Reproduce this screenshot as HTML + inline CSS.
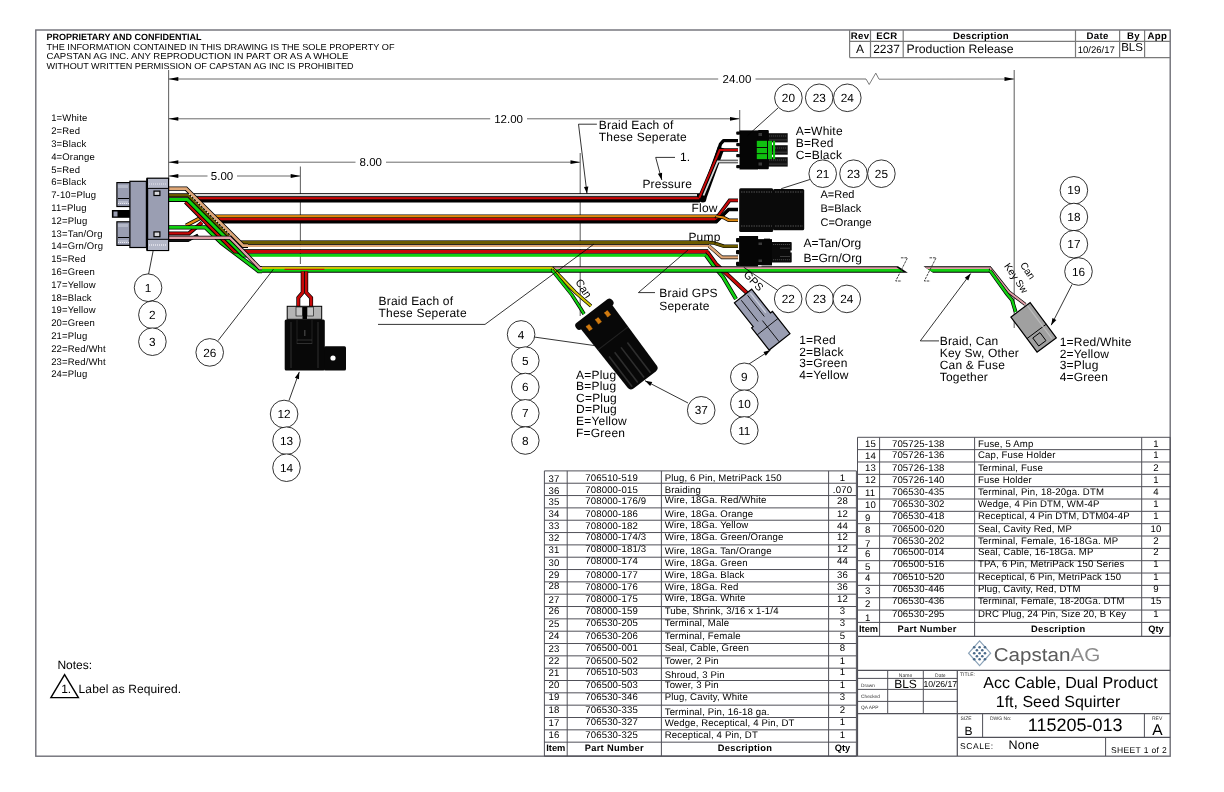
<!DOCTYPE html>
<html><head><meta charset="utf-8"><style>
html,body{margin:0;padding:0;background:#fff;}
body{width:1224px;height:792px;overflow:hidden;}
svg{display:block;will-change:transform;text-rendering:geometricPrecision;font-family:"Liberation Sans", sans-serif;}
</style></head><body>
<svg width="1224" height="792" viewBox="0 0 1224 792">
<rect x="35.8" y="30" width="1134.4" height="726.2" fill="none" stroke="#6e6e76" stroke-width="1.4" />
<text x="46.5" y="39.6" font-size="9" text-anchor="start" font-weight="bold" fill="#000" textLength="155" lengthAdjust="spacingAndGlyphs" >PROPRIETARY AND CONFIDENTIAL</text>
<text x="46.5" y="49.8" font-size="8.7" text-anchor="start" font-weight="normal" fill="#000" textLength="348" lengthAdjust="spacingAndGlyphs" >THE INFORMATION CONTAINED IN THIS DRAWING IS THE SOLE PROPERTY OF</text>
<text x="46.5" y="59.4" font-size="8.7" text-anchor="start" font-weight="normal" fill="#000" textLength="302" lengthAdjust="spacingAndGlyphs" >CAPSTAN AG INC. ANY REPRODUCTION IN PART OR AS A WHOLE</text>
<text x="46.5" y="69.2" font-size="8.7" text-anchor="start" font-weight="normal" fill="#000" textLength="307" lengthAdjust="spacingAndGlyphs" >WITHOUT WRITTEN PERMISSION OF CAPSTAN AG INC IS PROHIBITED</text>
<line x1="849.6" y1="30" x2="849.6" y2="57.6" stroke="#7a7a7a" stroke-width="1.2" />
<line x1="870.5" y1="30" x2="870.5" y2="57.6" stroke="#7a7a7a" stroke-width="1.2" />
<line x1="903.2" y1="30" x2="903.2" y2="57.6" stroke="#7a7a7a" stroke-width="1.2" />
<line x1="1075.5" y1="30" x2="1075.5" y2="57.6" stroke="#7a7a7a" stroke-width="1.2" />
<line x1="1119.6" y1="30" x2="1119.6" y2="57.6" stroke="#7a7a7a" stroke-width="1.2" />
<line x1="1144.6" y1="30" x2="1144.6" y2="57.6" stroke="#7a7a7a" stroke-width="1.2" />
<line x1="849.6" y1="41.3" x2="1170.2" y2="41.3" stroke="#7a7a7a" stroke-width="1.2" />
<line x1="849.6" y1="57.6" x2="1170.2" y2="57.6" stroke="#7a7a7a" stroke-width="1.2" />
<text x="860.05" y="39.2" font-size="9.6" text-anchor="middle" font-weight="bold" fill="#000" letter-spacing="0.3">Rev</text>
<text x="886.85" y="39.2" font-size="9.6" text-anchor="middle" font-weight="bold" fill="#000" letter-spacing="0.3">ECR</text>
<text x="981" y="39.2" font-size="9.6" text-anchor="middle" font-weight="bold" fill="#000" letter-spacing="0.3">Description</text>
<text x="1097.55" y="39.2" font-size="9.6" text-anchor="middle" font-weight="bold" fill="#000" letter-spacing="0.3">Date</text>
<text x="1133.5" y="39.2" font-size="9.6" text-anchor="middle" font-weight="bold" fill="#000" letter-spacing="0.3">By</text>
<text x="1157.4" y="39.2" font-size="9.6" text-anchor="middle" font-weight="bold" fill="#000" letter-spacing="0.3">App</text>
<text x="860" y="52.8" font-size="12" text-anchor="middle" font-weight="normal" fill="#000" >A</text>
<text x="886.5" y="52.8" font-size="12" text-anchor="middle" font-weight="normal" fill="#000" >2237</text>
<text x="906.5" y="52.8" font-size="12.2" text-anchor="start" font-weight="normal" fill="#000" textLength="107" lengthAdjust="spacingAndGlyphs" >Production Release</text>
<text x="1096.3" y="53" font-size="9.5" text-anchor="middle" font-weight="normal" fill="#000" >10/26/17</text>
<text x="1132" y="51.3" font-size="11.5" text-anchor="middle" font-weight="normal" fill="#000" >BLS</text>
<line x1="168.6" y1="70" x2="168.6" y2="180" stroke="#6a6a6a" stroke-width="1.1" />
<line x1="168.6" y1="79" x2="718.2" y2="79" stroke="#5a5a5a" stroke-width="0.9" />
<line x1="755.5" y1="79" x2="866" y2="79" stroke="#5a5a5a" stroke-width="0.9" />
<polyline points="866,79 869.2,84.5 875.8,73.1 879,79.2 1014.2,79" fill="none" stroke="#5a5a5a" stroke-width="0.8" />
<polygon points="168.6,79 178.29999999999998,77.1 178.29999999999998,80.9" fill="#000" stroke="none" stroke-width="1" />
<polygon points="1014.2,79 1004.5,80.9 1004.5,77.1" fill="#000" stroke="none" stroke-width="1" />
<line x1="1014.2" y1="70" x2="1014.2" y2="328" stroke="#6a6a6a" stroke-width="1.1" />
<text x="737" y="83.2" font-size="11.5" text-anchor="middle" font-weight="normal" fill="#000" >24.00</text>
<line x1="168.6" y1="118.8" x2="490.2" y2="118.8" stroke="#5a5a5a" stroke-width="0.9" />
<line x1="527" y1="118.8" x2="739.7" y2="118.8" stroke="#5a5a5a" stroke-width="0.9" />
<polygon points="168.6,118.8 178.29999999999998,116.89999999999999 178.29999999999998,120.7" fill="#000" stroke="none" stroke-width="1" />
<polygon points="739.7,118.8 730.0,120.7 730.0,116.89999999999999" fill="#000" stroke="none" stroke-width="1" />
<line x1="739.7" y1="110" x2="739.7" y2="132" stroke="#6a6a6a" stroke-width="1.1" />
<text x="508.6" y="123" font-size="11.5" text-anchor="middle" font-weight="normal" fill="#000" >12.00</text>
<line x1="168.6" y1="162.2" x2="355.5" y2="162.2" stroke="#5a5a5a" stroke-width="0.9" />
<line x1="386" y1="162.2" x2="580.2" y2="162.2" stroke="#5a5a5a" stroke-width="0.9" />
<polygon points="168.6,162.2 178.29999999999998,160.29999999999998 178.29999999999998,164.1" fill="#000" stroke="none" stroke-width="1" />
<polygon points="580.2,162.2 570.5,164.1 570.5,160.29999999999998" fill="#000" stroke="none" stroke-width="1" />
<line x1="580.2" y1="153" x2="580.2" y2="316" stroke="#6a6a6a" stroke-width="1.1" />
<text x="370.8" y="166.4" font-size="11.5" text-anchor="middle" font-weight="normal" fill="#000" >8.00</text>
<line x1="168.6" y1="176" x2="207.5" y2="176" stroke="#5a5a5a" stroke-width="0.9" />
<line x1="237" y1="176" x2="300.4" y2="176" stroke="#5a5a5a" stroke-width="0.9" />
<polygon points="168.6,176 178.29999999999998,174.1 178.29999999999998,177.9" fill="#000" stroke="none" stroke-width="1" />
<polygon points="300.4,176 290.7,177.9 290.7,174.1" fill="#000" stroke="none" stroke-width="1" />
<line x1="300.4" y1="166.6" x2="300.4" y2="264" stroke="#6a6a6a" stroke-width="1.1" />
<text x="222" y="180.2" font-size="11.5" text-anchor="middle" font-weight="normal" fill="#000" >5.00</text>
<text x="51.2" y="121.3" font-size="9.5" text-anchor="start" font-weight="normal" fill="#000" letter-spacing="0.15">1=White</text>
<text x="51.2" y="134.1" font-size="9.5" text-anchor="start" font-weight="normal" fill="#000" letter-spacing="0.15">2=Red</text>
<text x="51.2" y="146.9" font-size="9.5" text-anchor="start" font-weight="normal" fill="#000" letter-spacing="0.15">3=Black</text>
<text x="51.2" y="159.7" font-size="9.5" text-anchor="start" font-weight="normal" fill="#000" letter-spacing="0.15">4=Orange</text>
<text x="51.2" y="172.5" font-size="9.5" text-anchor="start" font-weight="normal" fill="#000" letter-spacing="0.15">5=Red</text>
<text x="51.2" y="185.3" font-size="9.5" text-anchor="start" font-weight="normal" fill="#000" letter-spacing="0.15">6=Black</text>
<text x="51.2" y="198.10000000000002" font-size="9.5" text-anchor="start" font-weight="normal" fill="#000" letter-spacing="0.15">7-10=Plug</text>
<text x="51.2" y="210.9" font-size="9.5" text-anchor="start" font-weight="normal" fill="#000" letter-spacing="0.15">11=Plug</text>
<text x="51.2" y="223.7" font-size="9.5" text-anchor="start" font-weight="normal" fill="#000" letter-spacing="0.15">12=Plug</text>
<text x="51.2" y="236.5" font-size="9.5" text-anchor="start" font-weight="normal" fill="#000" letter-spacing="0.15">13=Tan/Org</text>
<text x="51.2" y="249.3" font-size="9.5" text-anchor="start" font-weight="normal" fill="#000" letter-spacing="0.15">14=Grn/Org</text>
<text x="51.2" y="262.1" font-size="9.5" text-anchor="start" font-weight="normal" fill="#000" letter-spacing="0.15">15=Red</text>
<text x="51.2" y="274.90000000000003" font-size="9.5" text-anchor="start" font-weight="normal" fill="#000" letter-spacing="0.15">16=Green</text>
<text x="51.2" y="287.7" font-size="9.5" text-anchor="start" font-weight="normal" fill="#000" letter-spacing="0.15">17=Yellow</text>
<text x="51.2" y="300.5" font-size="9.5" text-anchor="start" font-weight="normal" fill="#000" letter-spacing="0.15">18=Black</text>
<text x="51.2" y="313.3" font-size="9.5" text-anchor="start" font-weight="normal" fill="#000" letter-spacing="0.15">19=Yellow</text>
<text x="51.2" y="326.1" font-size="9.5" text-anchor="start" font-weight="normal" fill="#000" letter-spacing="0.15">20=Green</text>
<text x="51.2" y="338.90000000000003" font-size="9.5" text-anchor="start" font-weight="normal" fill="#000" letter-spacing="0.15">21=Plug</text>
<text x="51.2" y="351.7" font-size="9.5" text-anchor="start" font-weight="normal" fill="#000" letter-spacing="0.15">22=Red/Wht</text>
<text x="51.2" y="364.5" font-size="9.5" text-anchor="start" font-weight="normal" fill="#000" letter-spacing="0.15">23=Red/Wht</text>
<text x="51.2" y="377.3" font-size="9.5" text-anchor="start" font-weight="normal" fill="#000" letter-spacing="0.15">24=Plug</text>
<rect x="194" y="193.2" width="506" height="9.3" fill="#000" stroke="none" stroke-width="1" />
<rect x="194" y="194" width="503" height="2.2" fill="#d8d8d8" stroke="none" stroke-width="1" />
<rect x="194" y="197.1" width="506" height="2.2" fill="#c80808" stroke="none" stroke-width="1" />
<polyline points="702.5,199.3 721.2,147.5" fill="none" stroke="#000" stroke-width="6.8" />
<circle cx="702.8" cy="199" r="3.5" fill="#000"/>
<polyline points="704,195 720.5,144 723.5,140.6 738,140.6" fill="none" stroke="#000" stroke-width="3.4" stroke-linejoin="round"/>
<polyline points="699.2,198.2 719.7,150 738,150" fill="none" stroke="#000" stroke-width="3.4" stroke-linejoin="miter"/>
<polyline points="699.2,198.2 719.7,150 738,150" fill="none" stroke="#c80808" stroke-width="2.0" stroke-linejoin="miter"/>
<polyline points="703.5,195.5 717.8,161.5 738,161.5" fill="none" stroke="#000" stroke-width="3.4000000000000004" stroke-linejoin="miter"/>
<polyline points="703.5,195.5 717.8,161.5 738,161.5" fill="none" stroke="#d8d8d8" stroke-width="1.8" stroke-linejoin="miter"/>
<rect x="215.6" y="214.5" width="501.4" height="9" fill="#000" stroke="none" stroke-width="1" />
<rect x="215.6" y="215.1" width="501.4" height="2.3" fill="#e08a10" stroke="none" stroke-width="1" />
<rect x="215.6" y="218" width="501.4" height="2.3" fill="#c80808" stroke="none" stroke-width="1" />
<polyline points="716,222 728.6,209.5 738,209.5" fill="none" stroke="#000" stroke-width="3.4000000000000004" stroke-linejoin="miter"/>
<polyline points="716,222 728.6,209.5 738,209.5" fill="none" stroke="#000" stroke-width="2.6" stroke-linejoin="miter"/>
<polyline points="716,218.8 729.6,200.3 738,200.3" fill="none" stroke="#000" stroke-width="3.8000000000000003" stroke-linejoin="miter"/>
<polyline points="716,218.8 729.6,200.3 738,200.3" fill="none" stroke="#c80808" stroke-width="2.2" stroke-linejoin="miter"/>
<polyline points="716,216.3 723.5,217.5 728.6,220.2 738,220.2" fill="none" stroke="#000" stroke-width="3.6" stroke-linejoin="miter"/>
<polyline points="716,216.3 723.5,217.5 728.6,220.2 738,220.2" fill="none" stroke="#e08a10" stroke-width="2.0" stroke-linejoin="miter"/>
<polyline points="238,248.7 709,248.7" fill="none" stroke="#000" stroke-width="1.0" />
<polyline points="238,240.9 709,240.9" fill="none" stroke="#000" stroke-width="1.0" />
<rect x="238" y="241" width="471" height="3.2" fill="#6b5a00" stroke="none" stroke-width="1" />
<rect x="242" y="244.1" width="467" height="0.9" fill="#000" stroke="none" stroke-width="1" />
<rect x="242" y="244.9" width="467" height="2.2" fill="#e0a878" stroke="none" stroke-width="1" />
<rect x="242" y="247.1" width="467" height="1.9" fill="#fff" stroke="none" stroke-width="1" />
<rect x="242" y="249.2" width="466" height="0.8" fill="#000" stroke="none" stroke-width="1" />
<rect x="236" y="250" width="472" height="3.3" fill="#c80808" stroke="none" stroke-width="1" />
<rect x="242" y="253.2" width="466" height="0.7" fill="#000" stroke="none" stroke-width="1" />
<rect x="242" y="253.9" width="465" height="2.9" fill="#10d010" stroke="none" stroke-width="1" />
<polyline points="709,242.6 714,243 724,246.3 738,246.3" fill="none" stroke="#000" stroke-width="3.5999999999999996" stroke-linejoin="miter"/>
<polyline points="709,242.6 714,243 724,246.3 738,246.3" fill="none" stroke="#6b5a00" stroke-width="2.4" stroke-linejoin="miter"/>
<polyline points="709,246 722,257.4 738,257.4" fill="none" stroke="#000" stroke-width="3.5999999999999996" stroke-linejoin="miter"/>
<polyline points="709,246 722,257.4 738,257.4" fill="none" stroke="#e0a878" stroke-width="2.4" stroke-linejoin="miter"/>
<polyline points="707,251.5 716,264 730,277 748,294" fill="none" stroke="#000" stroke-width="4.2" stroke-linejoin="miter"/>
<polyline points="707,251.5 716,264 730,277 748,294" fill="none" stroke="#c80808" stroke-width="2.6" stroke-linejoin="miter"/>
<polyline points="706,255.3 713,265 723,277 736,299" fill="none" stroke="#000" stroke-width="4.2" stroke-linejoin="miter"/>
<polyline points="706,255.3 713,265 723,277 736,299" fill="none" stroke="#10d010" stroke-width="2.6" stroke-linejoin="miter"/>
<polygon points="259.8,266.3 898,266.3 907.8,272.8 259.8,272.8" fill="#000" stroke="none" stroke-width="1" />
<rect x="259.8" y="266.9" width="292.2" height="2.3" fill="#ccc400" stroke="none" stroke-width="1" />
<polygon points="552,267.3 896.5,267.3 899.2,269.1 552,269.1" fill="#e0a0a8" stroke="none" stroke-width="1" />
<polygon points="259.8,269.1 899.2,269.1 903.3,271.8 259.8,271.8" fill="#10d010" stroke="none" stroke-width="1" />
<polygon points="923.5,266.3 991,266.3 991,272.8 933,272.8" fill="#000" stroke="none" stroke-width="1" />
<polygon points="925,267.3 991,267.3 991,269.1 927.7,269.1" fill="#e0a0a8" stroke="none" stroke-width="1" />
<polygon points="927.7,269.1 991,269.1 991,271.8 931.8,271.8" fill="#10d010" stroke="none" stroke-width="1" />
<polyline points="900.9,257.8 907.5,257.8 895.7,281 901.6,281" fill="none" stroke="#333" stroke-width="0.9" stroke-dasharray="2.6,0.9"/>
<polyline points="929.5,257.8 936.1,257.8 924.3000000000001,281 930.2,281" fill="none" stroke="#333" stroke-width="0.9" stroke-dasharray="2.6,0.9"/>
<polyline points="990,268 1009,292 1025.4,304.5" fill="none" stroke="#000" stroke-width="3.4" stroke-linejoin="miter"/>
<polyline points="990,268 1009,292 1025.4,304.5" fill="none" stroke="#e0a0a8" stroke-width="2.0" stroke-linejoin="miter"/>
<polyline points="990,270.5 1007,294 1012,300 1015.6,311.9" fill="none" stroke="#000" stroke-width="3.8" stroke-linejoin="miter"/>
<polyline points="990,270.5 1007,294 1012,300 1015.6,311.9" fill="none" stroke="#10d010" stroke-width="2.4" stroke-linejoin="miter"/>
<polyline points="552,268 575,292 591,306" fill="none" stroke="#000" stroke-width="3.6" stroke-linejoin="miter"/>
<polyline points="552,268 575,292 591,306" fill="none" stroke="#ccc400" stroke-width="2.2" stroke-linejoin="miter"/>
<polyline points="552,270 572,295 581,309 584,314" fill="none" stroke="#000" stroke-width="3.6" stroke-linejoin="miter"/>
<polyline points="552,270 572,295 581,309 584,314" fill="none" stroke="#10d010" stroke-width="2.2" stroke-linejoin="miter"/>
<polyline points="168.6,233.4 189,233.4 202,222.5" fill="none" stroke="#000" stroke-width="4.0" stroke-linejoin="miter"/>
<polyline points="168.6,233.4 189,233.4 202,222.5" fill="none" stroke="#c80808" stroke-width="2.4" stroke-linejoin="miter"/>
<polyline points="168.6,240.4 188,240.4 198,235" fill="none" stroke="#000" stroke-width="3.0" stroke-linejoin="miter"/>
<polyline points="168.6,240.4 188,240.4 198,235" fill="none" stroke="#111" stroke-width="2.4" stroke-linejoin="miter"/>
<polyline points="186,225.5 200.4,217.9 215.6,216.2" fill="none" stroke="#000" stroke-width="4.0" stroke-linejoin="miter"/>
<polyline points="186,225.5 200.4,217.9 215.6,216.2" fill="none" stroke="#e08a10" stroke-width="2.4" stroke-linejoin="miter"/>
<polyline points="168.6,227.4 205.5,227.4 221.7,243 258.5,271 262,271" fill="none" stroke="#000" stroke-width="4.4" stroke-linejoin="miter"/>
<polyline points="168.6,227.4 205.5,227.4 221.7,243 258.5,271 262,271" fill="none" stroke="#10d010" stroke-width="2.8" stroke-linejoin="miter"/>
<polyline points="185.5,202 226.1,243 234.6,251.5 240,251.5" fill="none" stroke="#000" stroke-width="4.0" stroke-linejoin="miter"/>
<polyline points="185.5,202 226.1,243 234.6,251.5 240,251.5" fill="none" stroke="#c80808" stroke-width="2.4" stroke-linejoin="miter"/>
<polyline points="168.6,199.6 187.6,199.6 243.5,255.3 248,255.3" fill="none" stroke="#000" stroke-width="4.6" stroke-linejoin="miter"/>
<polyline points="168.6,199.6 187.6,199.6 243.5,255.3 248,255.3" fill="none" stroke="#10d010" stroke-width="3.0" stroke-linejoin="miter"/>
<polyline points="168.6,195.2 188.2,195.2 235.6,242.6 240,242.6" fill="none" stroke="#000" stroke-width="4.0" stroke-linejoin="miter"/>
<polyline points="168.6,195.2 188.2,195.2 235.6,242.6 240,242.6" fill="none" stroke="#6b5a00" stroke-width="2.4" stroke-linejoin="miter"/>
<polyline points="168.6,237.7 229.9,237.7 235.3,243 259.8,268.3 262,268.3" fill="none" stroke="#000" stroke-width="4.0" stroke-linejoin="miter"/>
<polyline points="168.6,237.7 229.9,237.7 235.3,243 259.8,268.3 262,268.3" fill="none" stroke="#e0a0a8" stroke-width="2.4" stroke-linejoin="miter"/>
<polyline points="168.6,188.6 186.1,188.6 243.2,245.7 248,245.7" fill="none" stroke="#000" stroke-width="4.4" stroke-linejoin="miter"/>
<polyline points="168.6,188.6 186.1,188.6 243.2,245.7 248,245.7" fill="none" stroke="#e0a878" stroke-width="2.8" stroke-linejoin="miter"/>
<polyline points="189,194 231,236" fill="none" stroke="#fff" stroke-width="1.2" stroke-dasharray="1,2.2"/>
<rect x="284.6" y="268.8" width="39.8" height="1.1" fill="#c80808" stroke="none" stroke-width="1" />
<polyline points="302.7,271.5 302.7,292.5 298.3,297.8 298.3,307" fill="none" stroke="#000" stroke-width="4.0" stroke-linejoin="miter"/>
<polyline points="302.7,271.5 302.7,292.5 298.3,297.8 298.3,307" fill="none" stroke="#c80808" stroke-width="2.6" stroke-linejoin="miter"/>
<polyline points="306.2,271.5 306.2,292.5 311.1,297.8 311.1,307" fill="none" stroke="#000" stroke-width="4.0" stroke-linejoin="miter"/>
<polyline points="306.2,271.5 306.2,292.5 311.1,297.8 311.1,307" fill="none" stroke="#c80808" stroke-width="2.6" stroke-linejoin="miter"/>
<rect x="116.9" y="182.6" width="14.1" height="23.9" fill="#9a9eb2" stroke="#000" stroke-width="1.2" />
<rect x="116.9" y="221.8" width="14.1" height="23.6" fill="#9a9eb2" stroke="#000" stroke-width="1.2" />
<rect x="118" y="185" width="10" height="3" fill="#b4b8c8" stroke="none" stroke-width="1" />
<rect x="118" y="201" width="10" height="3" fill="#b4b8c8" stroke="none" stroke-width="1" />
<rect x="118" y="224" width="10" height="3" fill="#b4b8c8" stroke="none" stroke-width="1" />
<rect x="118" y="240" width="10" height="3" fill="#b4b8c8" stroke="none" stroke-width="1" />
<line x1="118" y1="198.5" x2="129" y2="198.5" stroke="#000" stroke-width="1" />
<line x1="118" y1="237.5" x2="129" y2="237.5" stroke="#000" stroke-width="1" />
<rect x="111.9" y="210" width="19.1" height="7.8" fill="#000" stroke="none" stroke-width="1" />
<rect x="113.5" y="211.5" width="4" height="5" fill="#9a9eb2" stroke="none" stroke-width="1" />
<rect x="129.9" y="181.3" width="16.5" height="66.2" fill="#9a9eb2" stroke="#000" stroke-width="1.2" />
<rect x="147.2" y="178.2" width="21.4" height="72.3" fill="#9a9eb2" stroke="#000" stroke-width="1.2" />
<line x1="147.2" y1="178.2" x2="147.2" y2="250.5" stroke="#000" stroke-width="2" />
<rect x="148" y="179" width="20" height="9" fill="#b4b8c8" stroke="none" stroke-width="1" />
<line x1="147.2" y1="188.4" x2="168.6" y2="188.4" stroke="#000" stroke-width="1" />
<rect x="148" y="240" width="20" height="10" fill="#b4b8c8" stroke="none" stroke-width="1" />
<line x1="147.2" y1="239.3" x2="168.6" y2="239.3" stroke="#000" stroke-width="1" />
<rect x="154" y="191.1" width="5.9" height="4.4" fill="#d8d8dc" stroke="#000" stroke-width="1.2" />
<rect x="154" y="231.9" width="5.9" height="4.8" fill="#d8d8dc" stroke="#000" stroke-width="1.2" />
<line x1="149" y1="184" x2="167" y2="184" stroke="#e8e8f0" stroke-width="1.2" stroke-dasharray="1,1"/>
<line x1="149" y1="245" x2="167" y2="245" stroke="#e8e8f0" stroke-width="1.4" stroke-dasharray="1,1"/>
<line x1="118" y1="203.5" x2="129" y2="203.5" stroke="#e8e8f0" stroke-width="1.2" stroke-dasharray="1,1"/>
<line x1="118" y1="242.5" x2="129" y2="242.5" stroke="#e8e8f0" stroke-width="1.2" stroke-dasharray="1,1"/>
<rect x="766" y="133.2" width="21.7" height="9.200000000000017" fill="#111" stroke="none" stroke-width="1" />
<line x1="769" y1="136.0" x2="787" y2="136.0" stroke="#4a4a4a" stroke-width="1.1" stroke-dasharray="1.2,0.8"/>
<line x1="769" y1="139.9" x2="787" y2="139.9" stroke="#3a3a3a" stroke-width="1.1" />
<rect x="766" y="145.2" width="21.7" height="9.5" fill="#111" stroke="none" stroke-width="1" />
<line x1="769" y1="148.0" x2="787" y2="148.0" stroke="#4a4a4a" stroke-width="1.1" stroke-dasharray="1.2,0.8"/>
<line x1="769" y1="152.2" x2="787" y2="152.2" stroke="#3a3a3a" stroke-width="1.1" />
<rect x="766" y="157.2" width="21.7" height="9.400000000000006" fill="#111" stroke="none" stroke-width="1" />
<line x1="769" y1="160.0" x2="787" y2="160.0" stroke="#4a4a4a" stroke-width="1.1" stroke-dasharray="1.2,0.8"/>
<line x1="769" y1="164.1" x2="787" y2="164.1" stroke="#3a3a3a" stroke-width="1.1" />
<rect x="739.5" y="130.4" width="18.5" height="39.1" fill="#050505" stroke="none" stroke-width="1" />
<rect x="736.2" y="131.5" width="4" height="3.2" fill="#050505" stroke="none" stroke-width="1" rx="1"/>
<rect x="736.2" y="143" width="4" height="3.2" fill="#050505" stroke="none" stroke-width="1" rx="1"/>
<rect x="736.2" y="154" width="4" height="3.2" fill="#050505" stroke="none" stroke-width="1" rx="1"/>
<rect x="736.2" y="165" width="4" height="3.2" fill="#050505" stroke="none" stroke-width="1" rx="1"/>
<rect x="757.8" y="130" width="11" height="39.2" fill="#050505" stroke="none" stroke-width="1" rx="1"/>
<rect x="758.5" y="133" width="3.5" height="3" fill="#3a3a3a" stroke="none" stroke-width="1" />
<rect x="758.5" y="162.5" width="3.5" height="3" fill="#3a3a3a" stroke="none" stroke-width="1" />
<rect x="756.8" y="140.8" width="10.2" height="6.2" fill="#10c010" stroke="none" stroke-width="1" />
<rect x="756.8" y="148" width="10.2" height="5.2" fill="#10c010" stroke="none" stroke-width="1" />
<rect x="756.8" y="154.1" width="10.2" height="5" fill="#10c010" stroke="none" stroke-width="1" />
<rect x="768" y="140.8" width="4" height="18.3" fill="#10c010" stroke="none" stroke-width="1" />
<rect x="773" y="140.8" width="2.1" height="18.3" fill="#10c010" stroke="none" stroke-width="1" />
<rect x="739.2" y="188.2" width="34" height="43.9" fill="#0a0a0a" stroke="none" stroke-width="1" rx="1.5"/>
<rect x="773" y="189.1" width="31.2" height="41.2" fill="#0a0a0a" stroke="none" stroke-width="1" rx="1.5"/>
<line x1="741" y1="192" x2="772" y2="192" stroke="#3a3a3a" stroke-width="1.5" stroke-dasharray="1.5,1"/>
<line x1="775" y1="192" x2="803" y2="192" stroke="#3a3a3a" stroke-width="1.5" stroke-dasharray="1.5,1"/>
<line x1="741" y1="226" x2="772" y2="226" stroke="#3a3a3a" stroke-width="1.5" stroke-dasharray="1.5,1"/>
<line x1="775" y1="226" x2="803" y2="226" stroke="#3a3a3a" stroke-width="1.5" stroke-dasharray="1.5,1"/>
<rect x="771" y="242" width="20.7" height="20.6" fill="#0a0a0a" stroke="none" stroke-width="1" rx="0.8"/>
<line x1="773" y1="244.5" x2="790" y2="244.5" stroke="#4a4a4a" stroke-width="1.1" stroke-dasharray="1.2,0.8"/>
<line x1="780" y1="248.2" x2="790" y2="248.2" stroke="#3a3a3a" stroke-width="1.0" />
<line x1="780" y1="256.5" x2="790" y2="256.5" stroke="#3a3a3a" stroke-width="1.0" />
<line x1="773" y1="259.8" x2="790" y2="259.8" stroke="#4a4a4a" stroke-width="1.1" stroke-dasharray="1.2,0.8"/>
<rect x="790.5" y="250.5" width="1.5" height="2" fill="#fff" stroke="none" stroke-width="1" />
<rect x="739.1" y="236" width="19" height="30" fill="#050505" stroke="none" stroke-width="1" />
<rect x="736" y="238" width="3.6" height="4.2" fill="#050505" stroke="none" stroke-width="1" rx="1"/>
<rect x="736" y="250" width="3.6" height="4.2" fill="#050505" stroke="none" stroke-width="1" rx="1"/>
<rect x="736" y="261.8" width="3.6" height="4.2" fill="#050505" stroke="none" stroke-width="1" rx="1"/>
<rect x="758" y="239.1" width="14" height="26.3" fill="#050505" stroke="none" stroke-width="1" />
<rect x="764" y="238.6" width="6" height="2" fill="#050505" stroke="none" stroke-width="1" />
<rect x="758.5" y="242.5" width="3.5" height="2.5" fill="#3a3a3a" stroke="none" stroke-width="1" />
<rect x="758.5" y="259.5" width="3.5" height="2.5" fill="#3a3a3a" stroke="none" stroke-width="1" />
<rect x="758" y="265.3" width="3.5" height="1" fill="#fff" stroke="none" stroke-width="1" />
<g transform="translate(617.8,344.8) rotate(52.6)">
<rect x="-42.5" y="-22.8" width="8" height="45.6" rx="3.5" fill="#080808"/>
<path d="M-36,-19.8 L40.5,-18.3 Q44.2,-18 44.2,-14 L44.2,14 Q44.2,18 40.5,18.3 L-36,19.8 Z" fill="#080808"/>
<line x1="4" y1="-9" x2="42" y2="-9" stroke="#2e2e2e" stroke-width="1.6"/>
<line x1="4" y1="-1" x2="42" y2="-1" stroke="#2e2e2e" stroke-width="1.6"/>
<line x1="4" y1="7" x2="42" y2="7" stroke="#2e2e2e" stroke-width="1.6"/>
<line x1="4" y1="14" x2="42" y2="14" stroke="#2e2e2e" stroke-width="1.6"/>
<line x1="-8" y1="-19" x2="-8" y2="19" stroke="#222" stroke-width="1"/>
<rect x="-34" y="-13" width="6" height="4.5" fill="#d07a10" stroke="#080808" stroke-width="0.6" stroke-dasharray="1,1"/>
<rect x="-34" y="-1.5" width="6" height="4.5" fill="#d07a10" stroke="#080808" stroke-width="0.6" stroke-dasharray="1,1"/>
<rect x="-34" y="10" width="6" height="4.5" fill="#d07a10" stroke="#080808" stroke-width="0.6" stroke-dasharray="1,1"/>
</g>
<g transform="translate(761.2,319) rotate(51.7)">
<path d="M-29.3,-11 L1,-11 L1,-13.5 L29.3,-13.5 L29.3,13 L1,13 L1,11 L-29.3,11 Z" fill="#9a9eb2" stroke="#000" stroke-width="1.2"/>
<line x1="-27" y1="-4" x2="0" y2="-4" stroke="#000" stroke-width="0.8"/>
<line x1="-27" y1="4" x2="0" y2="4" stroke="#000" stroke-width="0.8"/>
<line x1="2" y1="0" x2="29" y2="0" stroke="#000" stroke-width="0.8"/>
<line x1="10" y1="-13.5" x2="10" y2="13" stroke="#000" stroke-width="0.8"/>
<line x1="-27" y1="-7.5" x2="-2" y2="-7.5" stroke="#c8ccd8" stroke-width="1.4"/>
</g>
<g transform="translate(1033.6,327.4) rotate(53.3)">
<path d="M-21.9,-12 L21.9,-12 L21.9,12 L-21.9,12 Z" fill="#a0a0a0" stroke="#000" stroke-width="1.2"/>
<line x1="5" y1="-12" x2="5" y2="12" stroke="#000" stroke-width="0.9"/>
<line x1="-21" y1="-8" x2="20" y2="-8" stroke="#bbb" stroke-width="1.2"/>
<rect x="8" y="-2" width="10" height="9" fill="none" stroke="#000" stroke-width="0.9"/>
</g>
<rect x="287.2" y="306.3" width="34.5" height="13" fill="#b4b4b4" stroke="#000" stroke-width="1" />
<rect x="296" y="307" width="6.5" height="9" fill="#c4c4c4" stroke="#000" stroke-width="0.6" />
<rect x="307" y="307" width="6.5" height="9" fill="#c4c4c4" stroke="#000" stroke-width="0.6" />
<rect x="302.5" y="307" width="4.5" height="12" fill="#000" stroke="none" stroke-width="1" />
<rect x="324" y="346.3" width="22" height="24.1" fill="#080808" stroke="none" stroke-width="1" rx="1.5"/>
<circle cx="333" cy="358" r="2.6" fill="#fff"/>
<rect x="284.7" y="319.6" width="40.1" height="50.8" fill="#080808" stroke="none" stroke-width="1" rx="1.5"/>
<line x1="291" y1="322" x2="291" y2="368" stroke="#3a3a3a" stroke-width="0.8" />
<line x1="318" y1="322" x2="318" y2="368" stroke="#3a3a3a" stroke-width="0.8" />
<line x1="297" y1="320" x2="297" y2="344" stroke="#2a2a2a" stroke-width="0.8" />
<line x1="312" y1="320" x2="312" y2="344" stroke="#2a2a2a" stroke-width="0.8" />
<line x1="297" y1="340" x2="312" y2="340" stroke="#3a3a3a" stroke-width="0.8" />
<line x1="297" y1="343.5" x2="312" y2="343.5" stroke="#3a3a3a" stroke-width="0.8" />
<rect x="304" y="330" width="1.5" height="6" fill="#3a3a3a" stroke="none" stroke-width="1" />
<line x1="148.6" y1="274" x2="153.2" y2="250.5" stroke="#000" stroke-width="0.8" />
<line x1="218" y1="340.7" x2="273.4" y2="269.3" stroke="#000" stroke-width="0.8" />
<line x1="289" y1="400.5" x2="299.3" y2="371.9" stroke="#000" stroke-width="0.8" />
<polygon points="299.3,371.9 298.9980083426729,379.23135738038354 294.85828828188374,377.7404791766728" fill="#000" stroke="none" stroke-width="1" />
<line x1="534" y1="337" x2="594.7" y2="345.6" stroke="#000" stroke-width="0.8" />
<line x1="688" y1="403" x2="645" y2="380.7" stroke="#000" stroke-width="0.8" />
<polygon points="645,380.7 652.2268933154039,381.96965074243656 650.2012326512108,385.8756331890869" fill="#000" stroke="none" stroke-width="1" />
<line x1="749" y1="364" x2="770.5" y2="350.1" stroke="#000" stroke-width="0.8" />
<polygon points="770.5,350.1 765.8159823485553,355.7480066077294 763.4271020987023,352.05297600543895" fill="#000" stroke="none" stroke-width="1" />
<line x1="777.6" y1="290.3" x2="743.8" y2="267.3" stroke="#000" stroke-width="0.8" />
<line x1="778" y1="108" x2="747.6" y2="135.5" stroke="#000" stroke-width="0.8" />
<line x1="809.9" y1="179.5" x2="781.2" y2="188.7" stroke="#000" stroke-width="0.8" />
<line x1="1072" y1="284.5" x2="1051.2" y2="325.2" stroke="#000" stroke-width="0.8" />
<polygon points="1051.2,325.2 1052.4265079303832,317.96565978843216 1056.3445072199484,319.9679788356791" fill="#000" stroke="none" stroke-width="1" />
<circle cx="148.05" cy="287.7" r="13.8" fill="#fff" stroke="#000" stroke-width="0.8"/>
<text x="148.05" y="291.8" font-size="11.8" text-anchor="middle" font-weight="normal" fill="#000" >1</text>
<circle cx="152.4" cy="314.8" r="13.8" fill="#fff" stroke="#000" stroke-width="0.8"/>
<text x="152.4" y="318.90000000000003" font-size="11.8" text-anchor="middle" font-weight="normal" fill="#000" >2</text>
<circle cx="152.4" cy="341.7" r="13.8" fill="#fff" stroke="#000" stroke-width="0.8"/>
<text x="152.4" y="345.8" font-size="11.8" text-anchor="middle" font-weight="normal" fill="#000" >3</text>
<circle cx="209.7" cy="352.4" r="13.8" fill="#fff" stroke="#000" stroke-width="0.8"/>
<text x="209.7" y="356.5" font-size="11.8" text-anchor="middle" font-weight="normal" fill="#000" >26</text>
<circle cx="284.1" cy="414" r="13.8" fill="#fff" stroke="#000" stroke-width="0.8"/>
<text x="284.1" y="418.1" font-size="11.8" text-anchor="middle" font-weight="normal" fill="#000" >12</text>
<circle cx="286.5" cy="440.7" r="13.8" fill="#fff" stroke="#000" stroke-width="0.8"/>
<text x="286.5" y="444.8" font-size="11.8" text-anchor="middle" font-weight="normal" fill="#000" >13</text>
<circle cx="286.5" cy="467.7" r="13.8" fill="#fff" stroke="#000" stroke-width="0.8"/>
<text x="286.5" y="471.8" font-size="11.8" text-anchor="middle" font-weight="normal" fill="#000" >14</text>
<circle cx="521.1" cy="334.4" r="13.8" fill="#fff" stroke="#000" stroke-width="0.8"/>
<text x="521.1" y="338.5" font-size="11.8" text-anchor="middle" font-weight="normal" fill="#000" >4</text>
<circle cx="525.3" cy="360.6" r="13.8" fill="#fff" stroke="#000" stroke-width="0.8"/>
<text x="525.3" y="364.70000000000005" font-size="11.8" text-anchor="middle" font-weight="normal" fill="#000" >5</text>
<circle cx="525.3" cy="387" r="13.8" fill="#fff" stroke="#000" stroke-width="0.8"/>
<text x="525.3" y="391.1" font-size="11.8" text-anchor="middle" font-weight="normal" fill="#000" >6</text>
<circle cx="525.3" cy="413.3" r="13.8" fill="#fff" stroke="#000" stroke-width="0.8"/>
<text x="525.3" y="417.40000000000003" font-size="11.8" text-anchor="middle" font-weight="normal" fill="#000" >7</text>
<circle cx="525.3" cy="440.5" r="13.8" fill="#fff" stroke="#000" stroke-width="0.8"/>
<text x="525.3" y="444.6" font-size="11.8" text-anchor="middle" font-weight="normal" fill="#000" >8</text>
<circle cx="701.2" cy="410.3" r="13.8" fill="#fff" stroke="#000" stroke-width="0.8"/>
<text x="701.2" y="414.40000000000003" font-size="11.8" text-anchor="middle" font-weight="normal" fill="#000" >37</text>
<circle cx="744.3" cy="376.8" r="13.8" fill="#fff" stroke="#000" stroke-width="0.8"/>
<text x="744.3" y="380.90000000000003" font-size="11.8" text-anchor="middle" font-weight="normal" fill="#000" >9</text>
<circle cx="744.3" cy="403.7" r="13.8" fill="#fff" stroke="#000" stroke-width="0.8"/>
<text x="744.3" y="407.8" font-size="11.8" text-anchor="middle" font-weight="normal" fill="#000" >10</text>
<circle cx="744.3" cy="430.4" r="13.8" fill="#fff" stroke="#000" stroke-width="0.8"/>
<text x="744.3" y="434.5" font-size="11.8" text-anchor="middle" font-weight="normal" fill="#000" >11</text>
<circle cx="788.2" cy="298.9" r="13.8" fill="#fff" stroke="#000" stroke-width="0.8"/>
<text x="788.2" y="303.0" font-size="11.8" text-anchor="middle" font-weight="normal" fill="#000" >22</text>
<circle cx="819.6" cy="298.9" r="13.8" fill="#fff" stroke="#000" stroke-width="0.8"/>
<text x="819.6" y="303.0" font-size="11.8" text-anchor="middle" font-weight="normal" fill="#000" >23</text>
<circle cx="846.8" cy="298.9" r="13.8" fill="#fff" stroke="#000" stroke-width="0.8"/>
<text x="846.8" y="303.0" font-size="11.8" text-anchor="middle" font-weight="normal" fill="#000" >24</text>
<circle cx="788.4" cy="97.8" r="13.8" fill="#fff" stroke="#000" stroke-width="0.8"/>
<text x="788.4" y="101.89999999999999" font-size="11.8" text-anchor="middle" font-weight="normal" fill="#000" >20</text>
<circle cx="819.2" cy="97.8" r="13.8" fill="#fff" stroke="#000" stroke-width="0.8"/>
<text x="819.2" y="101.89999999999999" font-size="11.8" text-anchor="middle" font-weight="normal" fill="#000" >23</text>
<circle cx="847.3" cy="97.8" r="13.8" fill="#fff" stroke="#000" stroke-width="0.8"/>
<text x="847.3" y="101.89999999999999" font-size="11.8" text-anchor="middle" font-weight="normal" fill="#000" >24</text>
<circle cx="822.7" cy="173.7" r="13.8" fill="#fff" stroke="#000" stroke-width="0.8"/>
<text x="822.7" y="177.79999999999998" font-size="11.8" text-anchor="middle" font-weight="normal" fill="#000" >21</text>
<circle cx="853.5" cy="173.7" r="13.8" fill="#fff" stroke="#000" stroke-width="0.8"/>
<text x="853.5" y="177.79999999999998" font-size="11.8" text-anchor="middle" font-weight="normal" fill="#000" >23</text>
<circle cx="881.4" cy="173.7" r="13.8" fill="#fff" stroke="#000" stroke-width="0.8"/>
<text x="881.4" y="177.79999999999998" font-size="11.8" text-anchor="middle" font-weight="normal" fill="#000" >25</text>
<circle cx="1073.9" cy="190.3" r="13.8" fill="#fff" stroke="#000" stroke-width="0.8"/>
<text x="1073.9" y="194.4" font-size="11.8" text-anchor="middle" font-weight="normal" fill="#000" >19</text>
<circle cx="1073.9" cy="217" r="13.8" fill="#fff" stroke="#000" stroke-width="0.8"/>
<text x="1073.9" y="221.1" font-size="11.8" text-anchor="middle" font-weight="normal" fill="#000" >18</text>
<circle cx="1073.9" cy="244.2" r="13.8" fill="#fff" stroke="#000" stroke-width="0.8"/>
<text x="1073.9" y="248.29999999999998" font-size="11.8" text-anchor="middle" font-weight="normal" fill="#000" >17</text>
<circle cx="1078.5" cy="271.5" r="13.8" fill="#fff" stroke="#000" stroke-width="0.8"/>
<text x="1078.5" y="275.6" font-size="11.8" text-anchor="middle" font-weight="normal" fill="#000" >16</text>
<text x="598.8" y="128.8" font-size="12" text-anchor="start" font-weight="normal" fill="#000" letter-spacing="0.2" >Braid Each of</text>
<text x="598.8" y="140.5" font-size="12" text-anchor="start" font-weight="normal" fill="#000" letter-spacing="0.2" >These Seperate</text>
<polyline points="596.9,124.2 578.5,124.2 587,193.6" fill="none" stroke="#000" stroke-width="0.8" />
<polygon points="587,193.6 583.9653280588534,186.9193738160545 588.3326926735604,186.38446604624173" fill="#000" stroke="none" stroke-width="1" />
<text x="680" y="161.2" font-size="12" text-anchor="start" font-weight="normal" fill="#000" letter-spacing="0.2" >1.</text>
<polyline points="675,157.4 655.7,157.4 661.8,180" fill="none" stroke="#000" stroke-width="0.8" />
<polygon points="661.8,180 657.8519051939232,173.8151356197383 662.0998877465771,172.66855625818127" fill="#000" stroke="none" stroke-width="1" />
<text x="642.4" y="187.6" font-size="12" text-anchor="start" font-weight="normal" fill="#000" letter-spacing="0.2" >Pressure</text>
<text x="691.6" y="212" font-size="12" text-anchor="start" font-weight="normal" fill="#000" letter-spacing="0.2" >Flow</text>
<text x="688.4" y="240.5" font-size="12" text-anchor="start" font-weight="normal" fill="#000" letter-spacing="0.2" >Pump</text>
<text x="795.7" y="135" font-size="12" text-anchor="start" font-weight="normal" fill="#000" letter-spacing="0.2" >A=White</text>
<text x="795.7" y="147" font-size="12" text-anchor="start" font-weight="normal" fill="#000" letter-spacing="0.2" >B=Red</text>
<text x="795.7" y="159.3" font-size="12" text-anchor="start" font-weight="normal" fill="#000" letter-spacing="0.2" >C=Black</text>
<text x="820.5" y="198.3" font-size="11" text-anchor="start" font-weight="normal" fill="#000" >A=Red</text>
<text x="820.5" y="212" font-size="11" text-anchor="start" font-weight="normal" fill="#000" >B=Black</text>
<text x="820.5" y="226.2" font-size="11" text-anchor="start" font-weight="normal" fill="#000" >C=Orange</text>
<text x="803.5" y="247" font-size="12" text-anchor="start" font-weight="normal" fill="#000" >A=Tan/Org</text>
<text x="803.5" y="262" font-size="12" text-anchor="start" font-weight="normal" fill="#000" >B=Grn/Org</text>
<text x="378.6" y="305" font-size="12" text-anchor="start" font-weight="normal" fill="#000" letter-spacing="0.2" >Braid Each of</text>
<text x="378.6" y="317" font-size="12" text-anchor="start" font-weight="normal" fill="#000" letter-spacing="0.2" >These Seperate</text>
<polyline points="378,324.4 485,324.4 594,244" fill="none" stroke="#000" stroke-width="0.8" />
<text x="659.3" y="297.3" font-size="12" text-anchor="start" font-weight="normal" fill="#000" letter-spacing="0.2" >Braid GPS</text>
<text x="659.3" y="309.6" font-size="12" text-anchor="start" font-weight="normal" fill="#000" letter-spacing="0.2" >Seperate</text>
<polyline points="655,292.6 638.4,292.6 688,250" fill="none" stroke="#000" stroke-width="0.8" />
<text x="576.1" y="378.7" font-size="12" text-anchor="start" font-weight="normal" fill="#000" letter-spacing="0.2" >A=Plug</text>
<text x="576.1" y="390.26" font-size="12" text-anchor="start" font-weight="normal" fill="#000" letter-spacing="0.2" >B=Plug</text>
<text x="576.1" y="401.82" font-size="12" text-anchor="start" font-weight="normal" fill="#000" letter-spacing="0.2" >C=Plug</text>
<text x="576.1" y="413.38" font-size="12" text-anchor="start" font-weight="normal" fill="#000" letter-spacing="0.2" >D=Plug</text>
<text x="576.1" y="424.94" font-size="12" text-anchor="start" font-weight="normal" fill="#000" letter-spacing="0.2" >E=Yellow</text>
<text x="576.1" y="436.5" font-size="12" text-anchor="start" font-weight="normal" fill="#000" letter-spacing="0.2" >F=Green</text>
<text x="799.2" y="343.9" font-size="12" text-anchor="start" font-weight="normal" fill="#000" letter-spacing="0.2" >1=Red</text>
<text x="799.2" y="355.57" font-size="12" text-anchor="start" font-weight="normal" fill="#000" letter-spacing="0.2" >2=Black</text>
<text x="799.2" y="367.23999999999995" font-size="12" text-anchor="start" font-weight="normal" fill="#000" letter-spacing="0.2" >3=Green</text>
<text x="799.2" y="378.90999999999997" font-size="12" text-anchor="start" font-weight="normal" fill="#000" letter-spacing="0.2" >4=Yellow</text>
<text x="939.7" y="345.1" font-size="12" text-anchor="start" font-weight="normal" fill="#000" letter-spacing="0.2" >Braid, Can</text>
<text x="939.7" y="357.03000000000003" font-size="12" text-anchor="start" font-weight="normal" fill="#000" letter-spacing="0.2" >Key Sw, Other</text>
<text x="939.7" y="368.96000000000004" font-size="12" text-anchor="start" font-weight="normal" fill="#000" letter-spacing="0.2" >Can &amp; Fuse</text>
<text x="939.7" y="380.89000000000004" font-size="12" text-anchor="start" font-weight="normal" fill="#000" letter-spacing="0.2" >Together</text>
<polyline points="939,340.9 920.3,340.9 970.7,273.5" fill="none" stroke="#000" stroke-width="0.8" />
<polygon points="970.7,273.5 968.2698693904563,280.42347204952534 964.7461087139147,277.7884937394705" fill="#000" stroke="none" stroke-width="1" />
<text x="1059.7" y="346.0" font-size="12" text-anchor="start" font-weight="normal" fill="#000" letter-spacing="0.2" >1=Red/White</text>
<text x="1059.7" y="357.63" font-size="12" text-anchor="start" font-weight="normal" fill="#000" letter-spacing="0.2" >2=Yellow</text>
<text x="1059.7" y="369.26" font-size="12" text-anchor="start" font-weight="normal" fill="#000" letter-spacing="0.2" >3=Plug</text>
<text x="1059.7" y="380.89" font-size="12" text-anchor="start" font-weight="normal" fill="#000" letter-spacing="0.2" >4=Green</text>
<text x="0" y="0" font-size="11" transform="translate(575,282) rotate(57)">Can</text>
<text x="0" y="0" font-size="11" transform="translate(743,275) rotate(47)">GPS</text>
<text x="0" y="0" font-size="10" transform="translate(1019.8,265) rotate(56)">Can</text>
<text x="0" y="0" font-size="10" transform="translate(1003.8,266) rotate(56)">Key Sw</text>
<text x="57.4" y="669" font-size="12" text-anchor="start" font-weight="normal" fill="#000" >Notes:</text>
<polygon points="50.9,697.6 78.4,697.6 64.6,674.6" fill="none" stroke="#000" stroke-width="1.4" />
<text x="61.2" y="693.2" font-size="12" text-anchor="start" font-weight="normal" fill="#000" >1.</text>
<text x="78.6" y="693.2" font-size="12" text-anchor="start" font-weight="normal" fill="#000" letter-spacing="0.1" >Label as Required.</text>
<line x1="544.4" y1="470.9" x2="856.4" y2="470.9" stroke="#505058" stroke-width="1.0" />
<line x1="544.4" y1="483.22999999999996" x2="856.4" y2="483.22999999999996" stroke="#505058" stroke-width="1.0" />
<line x1="544.4" y1="495.56" x2="856.4" y2="495.56" stroke="#505058" stroke-width="1.0" />
<line x1="544.4" y1="507.89" x2="856.4" y2="507.89" stroke="#505058" stroke-width="1.0" />
<line x1="544.4" y1="520.22" x2="856.4" y2="520.22" stroke="#505058" stroke-width="1.0" />
<line x1="544.4" y1="532.55" x2="856.4" y2="532.55" stroke="#505058" stroke-width="1.0" />
<line x1="544.4" y1="544.88" x2="856.4" y2="544.88" stroke="#505058" stroke-width="1.0" />
<line x1="544.4" y1="557.21" x2="856.4" y2="557.21" stroke="#505058" stroke-width="1.0" />
<line x1="544.4" y1="569.54" x2="856.4" y2="569.54" stroke="#505058" stroke-width="1.0" />
<line x1="544.4" y1="581.87" x2="856.4" y2="581.87" stroke="#505058" stroke-width="1.0" />
<line x1="544.4" y1="594.1999999999999" x2="856.4" y2="594.1999999999999" stroke="#505058" stroke-width="1.0" />
<line x1="544.4" y1="606.53" x2="856.4" y2="606.53" stroke="#505058" stroke-width="1.0" />
<line x1="544.4" y1="618.86" x2="856.4" y2="618.86" stroke="#505058" stroke-width="1.0" />
<line x1="544.4" y1="631.1899999999999" x2="856.4" y2="631.1899999999999" stroke="#505058" stroke-width="1.0" />
<line x1="544.4" y1="643.52" x2="856.4" y2="643.52" stroke="#505058" stroke-width="1.0" />
<line x1="544.4" y1="655.8499999999999" x2="856.4" y2="655.8499999999999" stroke="#505058" stroke-width="1.0" />
<line x1="544.4" y1="668.18" x2="856.4" y2="668.18" stroke="#505058" stroke-width="1.0" />
<line x1="544.4" y1="680.51" x2="856.4" y2="680.51" stroke="#505058" stroke-width="1.0" />
<line x1="544.4" y1="692.8399999999999" x2="856.4" y2="692.8399999999999" stroke="#505058" stroke-width="1.0" />
<line x1="544.4" y1="705.17" x2="856.4" y2="705.17" stroke="#505058" stroke-width="1.0" />
<line x1="544.4" y1="717.5" x2="856.4" y2="717.5" stroke="#505058" stroke-width="1.0" />
<line x1="544.4" y1="729.8299999999999" x2="856.4" y2="729.8299999999999" stroke="#505058" stroke-width="1.0" />
<line x1="544.4" y1="742.16" x2="856.4" y2="742.16" stroke="#505058" stroke-width="1.0" />
<line x1="544.4" y1="756.2" x2="856.4" y2="756.2" stroke="#505058" stroke-width="1.2" />
<line x1="544.4" y1="470.9" x2="544.4" y2="756.2" stroke="#505058" stroke-width="1.0" />
<line x1="567.2" y1="470.9" x2="567.2" y2="756.2" stroke="#505058" stroke-width="1.0" />
<line x1="661.4" y1="470.9" x2="661.4" y2="756.2" stroke="#505058" stroke-width="1.0" />
<line x1="828.6" y1="470.9" x2="828.6" y2="756.2" stroke="#505058" stroke-width="1.0" />
<line x1="856.4" y1="470.9" x2="856.4" y2="756.2" stroke="#505058" stroke-width="1.0" />
<text x="548.5" y="481.5" font-size="9.6" text-anchor="start" font-weight="normal" fill="#000" letter-spacing="0.15">37</text>
<text x="585.2" y="480.59999999999997" font-size="9.6" text-anchor="start" font-weight="normal" fill="#000" letter-spacing="0.15">706510-519</text>
<text x="664.6999999999999" y="480.59999999999997" font-size="9.6" text-anchor="start" font-weight="normal" fill="#000" letter-spacing="0.15">Plug, 6 Pin, MetriPack 150</text>
<text x="842.5" y="480.59999999999997" font-size="9.6" text-anchor="middle" font-weight="normal" fill="#000" letter-spacing="0.15">1</text>
<text x="548.5" y="493.59999999999997" font-size="9.6" text-anchor="start" font-weight="normal" fill="#000" letter-spacing="0.15">36</text>
<text x="585.2" y="493.09999999999997" font-size="9.6" text-anchor="start" font-weight="normal" fill="#000" letter-spacing="0.15">708000-015</text>
<text x="664.6999999999999" y="493.4" font-size="9.6" text-anchor="start" font-weight="normal" fill="#000" letter-spacing="0.15">Braiding</text>
<text x="842.5" y="493.09999999999997" font-size="9.6" text-anchor="middle" font-weight="normal" fill="#000" letter-spacing="0.15">.070</text>
<text x="548.5" y="504.8" font-size="9.6" text-anchor="start" font-weight="normal" fill="#000" letter-spacing="0.15">35</text>
<text x="585.2" y="504.4" font-size="9.6" text-anchor="start" font-weight="normal" fill="#000" letter-spacing="0.15">708000-176/9</text>
<text x="664.6999999999999" y="503.09999999999997" font-size="9.6" text-anchor="start" font-weight="normal" fill="#000" letter-spacing="0.15">Wire, 18Ga. Red/White</text>
<text x="842.5" y="504.4" font-size="9.6" text-anchor="middle" font-weight="normal" fill="#000" letter-spacing="0.15">28</text>
<text x="548.5" y="517.3000000000001" font-size="9.6" text-anchor="start" font-weight="normal" fill="#000" letter-spacing="0.15">34</text>
<text x="585.2" y="517.3000000000001" font-size="9.6" text-anchor="start" font-weight="normal" fill="#000" letter-spacing="0.15">708000-186</text>
<text x="664.6999999999999" y="517.3000000000001" font-size="9.6" text-anchor="start" font-weight="normal" fill="#000" letter-spacing="0.15">Wire, 18Ga. Orange</text>
<text x="842.5" y="517.3000000000001" font-size="9.6" text-anchor="middle" font-weight="normal" fill="#000" letter-spacing="0.15">12</text>
<text x="548.5" y="528.5" font-size="9.6" text-anchor="start" font-weight="normal" fill="#000" letter-spacing="0.15">33</text>
<text x="585.2" y="528.5" font-size="9.6" text-anchor="start" font-weight="normal" fill="#000" letter-spacing="0.15">708000-182</text>
<text x="664.6999999999999" y="528.2" font-size="9.6" text-anchor="start" font-weight="normal" fill="#000" letter-spacing="0.15">Wire, 18Ga. Yellow</text>
<text x="842.5" y="528.5" font-size="9.6" text-anchor="middle" font-weight="normal" fill="#000" letter-spacing="0.15">44</text>
<text x="548.5" y="540.7" font-size="9.6" text-anchor="start" font-weight="normal" fill="#000" letter-spacing="0.15">32</text>
<text x="585.2" y="540.1" font-size="9.6" text-anchor="start" font-weight="normal" fill="#000" letter-spacing="0.15">708000-174/3</text>
<text x="664.6999999999999" y="539.7" font-size="9.6" text-anchor="start" font-weight="normal" fill="#000" letter-spacing="0.15">Wire, 18Ga. Green/Orange</text>
<text x="842.5" y="540.1" font-size="9.6" text-anchor="middle" font-weight="normal" fill="#000" letter-spacing="0.15">12</text>
<text x="548.5" y="552.5" font-size="9.6" text-anchor="start" font-weight="normal" fill="#000" letter-spacing="0.15">31</text>
<text x="585.2" y="552.4000000000001" font-size="9.6" text-anchor="start" font-weight="normal" fill="#000" letter-spacing="0.15">708000-181/3</text>
<text x="664.6999999999999" y="554.0" font-size="9.6" text-anchor="start" font-weight="normal" fill="#000" letter-spacing="0.15">Wire, 18Ga. Tan/Orange</text>
<text x="842.5" y="552.4000000000001" font-size="9.6" text-anchor="middle" font-weight="normal" fill="#000" letter-spacing="0.15">12</text>
<text x="548.5" y="565.6" font-size="9.6" text-anchor="start" font-weight="normal" fill="#000" letter-spacing="0.15">30</text>
<text x="585.2" y="564.3000000000001" font-size="9.6" text-anchor="start" font-weight="normal" fill="#000" letter-spacing="0.15">708000-174</text>
<text x="664.6999999999999" y="566.2" font-size="9.6" text-anchor="start" font-weight="normal" fill="#000" letter-spacing="0.15">Wire, 18Ga. Green</text>
<text x="842.5" y="564.3000000000001" font-size="9.6" text-anchor="middle" font-weight="normal" fill="#000" letter-spacing="0.15">44</text>
<text x="548.5" y="577.5" font-size="9.6" text-anchor="start" font-weight="normal" fill="#000" letter-spacing="0.15">29</text>
<text x="585.2" y="577.5" font-size="9.6" text-anchor="start" font-weight="normal" fill="#000" letter-spacing="0.15">708000-177</text>
<text x="664.6999999999999" y="577.5" font-size="9.6" text-anchor="start" font-weight="normal" fill="#000" letter-spacing="0.15">Wire, 18Ga. Black</text>
<text x="842.5" y="577.5" font-size="9.6" text-anchor="middle" font-weight="normal" fill="#000" letter-spacing="0.15">36</text>
<text x="548.5" y="589.4000000000001" font-size="9.6" text-anchor="start" font-weight="normal" fill="#000" letter-spacing="0.15">28</text>
<text x="585.2" y="589.5" font-size="9.6" text-anchor="start" font-weight="normal" fill="#000" letter-spacing="0.15">708000-176</text>
<text x="664.6999999999999" y="589.5" font-size="9.6" text-anchor="start" font-weight="normal" fill="#000" letter-spacing="0.15">Wire, 18Ga. Red</text>
<text x="842.5" y="589.5" font-size="9.6" text-anchor="middle" font-weight="normal" fill="#000" letter-spacing="0.15">36</text>
<text x="548.5" y="602.5" font-size="9.6" text-anchor="start" font-weight="normal" fill="#000" letter-spacing="0.15">27</text>
<text x="585.2" y="602.0" font-size="9.6" text-anchor="start" font-weight="normal" fill="#000" letter-spacing="0.15">708000-175</text>
<text x="664.6999999999999" y="601.1" font-size="9.6" text-anchor="start" font-weight="normal" fill="#000" letter-spacing="0.15">Wire, 18Ga. White</text>
<text x="842.5" y="602.0" font-size="9.6" text-anchor="middle" font-weight="normal" fill="#000" letter-spacing="0.15">12</text>
<text x="548.5" y="614.3000000000001" font-size="9.6" text-anchor="start" font-weight="normal" fill="#000" letter-spacing="0.15">26</text>
<text x="585.2" y="614.4000000000001" font-size="9.6" text-anchor="start" font-weight="normal" fill="#000" letter-spacing="0.15">708000-159</text>
<text x="664.6999999999999" y="614.0" font-size="9.6" text-anchor="start" font-weight="normal" fill="#000" letter-spacing="0.15">Tube, Shrink, 3/16 x 1-1/4</text>
<text x="842.5" y="614.4000000000001" font-size="9.6" text-anchor="middle" font-weight="normal" fill="#000" letter-spacing="0.15">3</text>
<text x="548.5" y="626.6" font-size="9.6" text-anchor="start" font-weight="normal" fill="#000" letter-spacing="0.15">25</text>
<text x="585.2" y="626.2" font-size="9.6" text-anchor="start" font-weight="normal" fill="#000" letter-spacing="0.15">706530-205</text>
<text x="664.6999999999999" y="626.2" font-size="9.6" text-anchor="start" font-weight="normal" fill="#000" letter-spacing="0.15">Terminal, Male</text>
<text x="842.5" y="626.2" font-size="9.6" text-anchor="middle" font-weight="normal" fill="#000" letter-spacing="0.15">3</text>
<text x="548.5" y="639.4000000000001" font-size="9.6" text-anchor="start" font-weight="normal" fill="#000" letter-spacing="0.15">24</text>
<text x="585.2" y="639.3000000000001" font-size="9.6" text-anchor="start" font-weight="normal" fill="#000" letter-spacing="0.15">706530-206</text>
<text x="664.6999999999999" y="639.1" font-size="9.6" text-anchor="start" font-weight="normal" fill="#000" letter-spacing="0.15">Terminal, Female</text>
<text x="842.5" y="639.3000000000001" font-size="9.6" text-anchor="middle" font-weight="normal" fill="#000" letter-spacing="0.15">5</text>
<text x="548.5" y="651.5" font-size="9.6" text-anchor="start" font-weight="normal" fill="#000" letter-spacing="0.15">23</text>
<text x="585.2" y="651.3000000000001" font-size="9.6" text-anchor="start" font-weight="normal" fill="#000" letter-spacing="0.15">706500-001</text>
<text x="664.6999999999999" y="651.3000000000001" font-size="9.6" text-anchor="start" font-weight="normal" fill="#000" letter-spacing="0.15">Seal, Cable, Green</text>
<text x="842.5" y="651.3000000000001" font-size="9.6" text-anchor="middle" font-weight="normal" fill="#000" letter-spacing="0.15">8</text>
<text x="548.5" y="664.3000000000001" font-size="9.6" text-anchor="start" font-weight="normal" fill="#000" letter-spacing="0.15">22</text>
<text x="585.2" y="664.2" font-size="9.6" text-anchor="start" font-weight="normal" fill="#000" letter-spacing="0.15">706500-502</text>
<text x="664.6999999999999" y="664.2" font-size="9.6" text-anchor="start" font-weight="normal" fill="#000" letter-spacing="0.15">Tower, 2 Pin</text>
<text x="842.5" y="664.2" font-size="9.6" text-anchor="middle" font-weight="normal" fill="#000" letter-spacing="0.15">1</text>
<text x="548.5" y="675.6" font-size="9.6" text-anchor="start" font-weight="normal" fill="#000" letter-spacing="0.15">21</text>
<text x="585.2" y="675.0" font-size="9.6" text-anchor="start" font-weight="normal" fill="#000" letter-spacing="0.15">706510-503</text>
<text x="664.6999999999999" y="677.9000000000001" font-size="9.6" text-anchor="start" font-weight="normal" fill="#000" letter-spacing="0.15">Shroud, 3 Pin</text>
<text x="842.5" y="675.0" font-size="9.6" text-anchor="middle" font-weight="normal" fill="#000" letter-spacing="0.15">1</text>
<text x="548.5" y="688.4000000000001" font-size="9.6" text-anchor="start" font-weight="normal" fill="#000" letter-spacing="0.15">20</text>
<text x="585.2" y="688.2" font-size="9.6" text-anchor="start" font-weight="normal" fill="#000" letter-spacing="0.15">706500-503</text>
<text x="664.6999999999999" y="688.2" font-size="9.6" text-anchor="start" font-weight="normal" fill="#000" letter-spacing="0.15">Tower, 3 Pin</text>
<text x="842.5" y="688.2" font-size="9.6" text-anchor="middle" font-weight="normal" fill="#000" letter-spacing="0.15">1</text>
<text x="548.5" y="700.2" font-size="9.6" text-anchor="start" font-weight="normal" fill="#000" letter-spacing="0.15">19</text>
<text x="585.2" y="700.4000000000001" font-size="9.6" text-anchor="start" font-weight="normal" fill="#000" letter-spacing="0.15">706530-346</text>
<text x="664.6999999999999" y="700.4000000000001" font-size="9.6" text-anchor="start" font-weight="normal" fill="#000" letter-spacing="0.15">Plug, Cavity, White</text>
<text x="842.5" y="700.4000000000001" font-size="9.6" text-anchor="middle" font-weight="normal" fill="#000" letter-spacing="0.15">3</text>
<text x="548.5" y="713.0" font-size="9.6" text-anchor="start" font-weight="normal" fill="#000" letter-spacing="0.15">18</text>
<text x="585.2" y="713.3000000000001" font-size="9.6" text-anchor="start" font-weight="normal" fill="#000" letter-spacing="0.15">706530-335</text>
<text x="664.6999999999999" y="714.6" font-size="9.6" text-anchor="start" font-weight="normal" fill="#000" letter-spacing="0.15">Terminal, Pin, 16-18 ga.</text>
<text x="842.5" y="713.3000000000001" font-size="9.6" text-anchor="middle" font-weight="normal" fill="#000" letter-spacing="0.15">2</text>
<text x="548.5" y="725.5" font-size="9.6" text-anchor="start" font-weight="normal" fill="#000" letter-spacing="0.15">17</text>
<text x="585.2" y="725.2" font-size="9.6" text-anchor="start" font-weight="normal" fill="#000" letter-spacing="0.15">706530-327</text>
<text x="664.6999999999999" y="725.5" font-size="9.6" text-anchor="start" font-weight="normal" fill="#000" letter-spacing="0.15">Wedge, Receptical, 4 Pin, DT</text>
<text x="842.5" y="725.2" font-size="9.6" text-anchor="middle" font-weight="normal" fill="#000" letter-spacing="0.15">1</text>
<text x="548.5" y="738.3000000000001" font-size="9.6" text-anchor="start" font-weight="normal" fill="#000" letter-spacing="0.15">16</text>
<text x="585.2" y="738.1" font-size="9.6" text-anchor="start" font-weight="normal" fill="#000" letter-spacing="0.15">706530-325</text>
<text x="664.6999999999999" y="738.1" font-size="9.6" text-anchor="start" font-weight="normal" fill="#000" letter-spacing="0.15">Receptical, 4 Pin, DT</text>
<text x="842.5" y="738.1" font-size="9.6" text-anchor="middle" font-weight="normal" fill="#000" letter-spacing="0.15">1</text>
<text x="555.8" y="751.4000000000001" font-size="9.3" text-anchor="middle" font-weight="bold" fill="#000" >Item</text>
<text x="614.3" y="751.4000000000001" font-size="9.3" text-anchor="middle" font-weight="bold" fill="#000" letter-spacing="0.3">Part Number</text>
<text x="745.0" y="751.4000000000001" font-size="9.3" text-anchor="middle" font-weight="bold" fill="#000" letter-spacing="0.3">Description</text>
<text x="842.5" y="751.4000000000001" font-size="9.3" text-anchor="middle" font-weight="bold" fill="#000" >Qty</text>
<line x1="857.5" y1="437.3" x2="1170.2" y2="437.3" stroke="#505058" stroke-width="1.0" />
<line x1="857.5" y1="449.64" x2="1170.2" y2="449.64" stroke="#505058" stroke-width="1.0" />
<line x1="857.5" y1="461.98" x2="1170.2" y2="461.98" stroke="#505058" stroke-width="1.0" />
<line x1="857.5" y1="474.32" x2="1170.2" y2="474.32" stroke="#505058" stroke-width="1.0" />
<line x1="857.5" y1="486.66" x2="1170.2" y2="486.66" stroke="#505058" stroke-width="1.0" />
<line x1="857.5" y1="499.0" x2="1170.2" y2="499.0" stroke="#505058" stroke-width="1.0" />
<line x1="857.5" y1="511.34000000000003" x2="1170.2" y2="511.34000000000003" stroke="#505058" stroke-width="1.0" />
<line x1="857.5" y1="523.6800000000001" x2="1170.2" y2="523.6800000000001" stroke="#505058" stroke-width="1.0" />
<line x1="857.5" y1="536.02" x2="1170.2" y2="536.02" stroke="#505058" stroke-width="1.0" />
<line x1="857.5" y1="548.36" x2="1170.2" y2="548.36" stroke="#505058" stroke-width="1.0" />
<line x1="857.5" y1="560.7" x2="1170.2" y2="560.7" stroke="#505058" stroke-width="1.0" />
<line x1="857.5" y1="573.04" x2="1170.2" y2="573.04" stroke="#505058" stroke-width="1.0" />
<line x1="857.5" y1="585.38" x2="1170.2" y2="585.38" stroke="#505058" stroke-width="1.0" />
<line x1="857.5" y1="597.72" x2="1170.2" y2="597.72" stroke="#505058" stroke-width="1.0" />
<line x1="857.5" y1="610.06" x2="1170.2" y2="610.06" stroke="#505058" stroke-width="1.0" />
<line x1="857.5" y1="622.4" x2="1170.2" y2="622.4" stroke="#505058" stroke-width="1.0" />
<line x1="857.5" y1="636.4" x2="1170.2" y2="636.4" stroke="#505058" stroke-width="1.2" />
<line x1="857.5" y1="437.3" x2="857.5" y2="636.4" stroke="#505058" stroke-width="1.0" />
<line x1="879.6" y1="437.3" x2="879.6" y2="636.4" stroke="#505058" stroke-width="1.0" />
<line x1="974.6" y1="437.3" x2="974.6" y2="636.4" stroke="#505058" stroke-width="1.0" />
<line x1="1141.7" y1="437.3" x2="1141.7" y2="636.4" stroke="#505058" stroke-width="1.0" />
<line x1="1170.2" y1="437.3" x2="1170.2" y2="636.4" stroke="#505058" stroke-width="1.0" />
<text x="865" y="446.5" font-size="9.6" text-anchor="start" font-weight="normal" fill="#000" letter-spacing="0.15">15</text>
<text x="891.9" y="446.59999999999997" font-size="9.6" text-anchor="start" font-weight="normal" fill="#000" letter-spacing="0.15">705725-138</text>
<text x="977.9" y="446.59999999999997" font-size="9.6" text-anchor="start" font-weight="normal" fill="#000" letter-spacing="0.15">Fuse, 5 Amp</text>
<text x="1155.95" y="446.59999999999997" font-size="9.6" text-anchor="middle" font-weight="normal" fill="#000" letter-spacing="0.15">1</text>
<text x="865" y="458.7" font-size="9.6" text-anchor="start" font-weight="normal" fill="#000" letter-spacing="0.15">14</text>
<text x="891.9" y="458.4" font-size="9.6" text-anchor="start" font-weight="normal" fill="#000" letter-spacing="0.15">705726-136</text>
<text x="977.9" y="458.4" font-size="9.6" text-anchor="start" font-weight="normal" fill="#000" letter-spacing="0.15">Cap, Fuse Holder</text>
<text x="1155.95" y="458.4" font-size="9.6" text-anchor="middle" font-weight="normal" fill="#000" letter-spacing="0.15">1</text>
<text x="865" y="470.5" font-size="9.6" text-anchor="start" font-weight="normal" fill="#000" letter-spacing="0.15">13</text>
<text x="891.9" y="471.3" font-size="9.6" text-anchor="start" font-weight="normal" fill="#000" letter-spacing="0.15">705726-138</text>
<text x="977.9" y="471.3" font-size="9.6" text-anchor="start" font-weight="normal" fill="#000" letter-spacing="0.15">Terminal, Fuse</text>
<text x="1155.95" y="471.3" font-size="9.6" text-anchor="middle" font-weight="normal" fill="#000" letter-spacing="0.15">2</text>
<text x="865" y="483.3" font-size="9.6" text-anchor="start" font-weight="normal" fill="#000" letter-spacing="0.15">12</text>
<text x="891.9" y="483.3" font-size="9.6" text-anchor="start" font-weight="normal" fill="#000" letter-spacing="0.15">705726-140</text>
<text x="977.9" y="483.3" font-size="9.6" text-anchor="start" font-weight="normal" fill="#000" letter-spacing="0.15">Fuse Holder</text>
<text x="1155.95" y="483.3" font-size="9.6" text-anchor="middle" font-weight="normal" fill="#000" letter-spacing="0.15">1</text>
<text x="865" y="495.5" font-size="9.6" text-anchor="start" font-weight="normal" fill="#000" letter-spacing="0.15">11</text>
<text x="891.9" y="495.2" font-size="9.6" text-anchor="start" font-weight="normal" fill="#000" letter-spacing="0.15">706530-435</text>
<text x="977.9" y="495.2" font-size="9.6" text-anchor="start" font-weight="normal" fill="#000" letter-spacing="0.15">Terminal, Pin, 18-20ga. DTM</text>
<text x="1155.95" y="495.2" font-size="9.6" text-anchor="middle" font-weight="normal" fill="#000" letter-spacing="0.15">4</text>
<text x="865" y="507.7" font-size="9.6" text-anchor="start" font-weight="normal" fill="#000" letter-spacing="0.15">10</text>
<text x="891.9" y="507.3" font-size="9.6" text-anchor="start" font-weight="normal" fill="#000" letter-spacing="0.15">706530-302</text>
<text x="977.9" y="507.3" font-size="9.6" text-anchor="start" font-weight="normal" fill="#000" letter-spacing="0.15">Wedge, 4 Pin DTM, WM-4P</text>
<text x="1155.95" y="507.3" font-size="9.6" text-anchor="middle" font-weight="normal" fill="#000" letter-spacing="0.15">1</text>
<text x="865" y="521.1" font-size="9.6" text-anchor="start" font-weight="normal" fill="#000" letter-spacing="0.15">9</text>
<text x="891.9" y="519.3000000000001" font-size="9.6" text-anchor="start" font-weight="normal" fill="#000" letter-spacing="0.15">706530-418</text>
<text x="977.9" y="519.3000000000001" font-size="9.6" text-anchor="start" font-weight="normal" fill="#000" letter-spacing="0.15">Receptical, 4 Pin DTM, DTM04-4P</text>
<text x="1155.95" y="519.3000000000001" font-size="9.6" text-anchor="middle" font-weight="normal" fill="#000" letter-spacing="0.15">1</text>
<text x="865" y="533.3000000000001" font-size="9.6" text-anchor="start" font-weight="normal" fill="#000" letter-spacing="0.15">8</text>
<text x="891.9" y="531.8000000000001" font-size="9.6" text-anchor="start" font-weight="normal" fill="#000" letter-spacing="0.15">706500-020</text>
<text x="977.9" y="531.8000000000001" font-size="9.6" text-anchor="start" font-weight="normal" fill="#000" letter-spacing="0.15">Seal, Cavity Red, MP</text>
<text x="1155.95" y="531.8000000000001" font-size="9.6" text-anchor="middle" font-weight="normal" fill="#000" letter-spacing="0.15">10</text>
<text x="865" y="546.5" font-size="9.6" text-anchor="start" font-weight="normal" fill="#000" letter-spacing="0.15">7</text>
<text x="891.9" y="543.7" font-size="9.6" text-anchor="start" font-weight="normal" fill="#000" letter-spacing="0.15">706530-202</text>
<text x="977.9" y="543.7" font-size="9.6" text-anchor="start" font-weight="normal" fill="#000" letter-spacing="0.15">Terminal, Female, 16-18Ga. MP</text>
<text x="1155.95" y="543.7" font-size="9.6" text-anchor="middle" font-weight="normal" fill="#000" letter-spacing="0.15">2</text>
<text x="865" y="557.3000000000001" font-size="9.6" text-anchor="start" font-weight="normal" fill="#000" letter-spacing="0.15">6</text>
<text x="891.9" y="555.3000000000001" font-size="9.6" text-anchor="start" font-weight="normal" fill="#000" letter-spacing="0.15">706500-014</text>
<text x="977.9" y="555.3000000000001" font-size="9.6" text-anchor="start" font-weight="normal" fill="#000" letter-spacing="0.15">Seal, Cable, 16-18Ga. MP</text>
<text x="1155.95" y="555.3000000000001" font-size="9.6" text-anchor="middle" font-weight="normal" fill="#000" letter-spacing="0.15">2</text>
<text x="865" y="569.5" font-size="9.6" text-anchor="start" font-weight="normal" fill="#000" letter-spacing="0.15">5</text>
<text x="891.9" y="567.4000000000001" font-size="9.6" text-anchor="start" font-weight="normal" fill="#000" letter-spacing="0.15">706500-516</text>
<text x="977.9" y="567.4000000000001" font-size="9.6" text-anchor="start" font-weight="normal" fill="#000" letter-spacing="0.15">TPA, 6 Pin, MetriPack 150 Series</text>
<text x="1155.95" y="567.4000000000001" font-size="9.6" text-anchor="middle" font-weight="normal" fill="#000" letter-spacing="0.15">1</text>
<text x="865" y="581.3000000000001" font-size="9.6" text-anchor="start" font-weight="normal" fill="#000" letter-spacing="0.15">4</text>
<text x="891.9" y="580.1" font-size="9.6" text-anchor="start" font-weight="normal" fill="#000" letter-spacing="0.15">706510-520</text>
<text x="977.9" y="580.1" font-size="9.6" text-anchor="start" font-weight="normal" fill="#000" letter-spacing="0.15">Receptical, 6 Pin, MetriPack 150</text>
<text x="1155.95" y="580.1" font-size="9.6" text-anchor="middle" font-weight="normal" fill="#000" letter-spacing="0.15">1</text>
<text x="865" y="594.2" font-size="9.6" text-anchor="start" font-weight="normal" fill="#000" letter-spacing="0.15">3</text>
<text x="891.9" y="592.3000000000001" font-size="9.6" text-anchor="start" font-weight="normal" fill="#000" letter-spacing="0.15">706530-446</text>
<text x="977.9" y="592.3000000000001" font-size="9.6" text-anchor="start" font-weight="normal" fill="#000" letter-spacing="0.15">Plug, Cavity, Red, DTM</text>
<text x="1155.95" y="592.3000000000001" font-size="9.6" text-anchor="middle" font-weight="normal" fill="#000" letter-spacing="0.15">9</text>
<text x="865" y="606.7" font-size="9.6" text-anchor="start" font-weight="normal" fill="#000" letter-spacing="0.15">2</text>
<text x="891.9" y="604.3000000000001" font-size="9.6" text-anchor="start" font-weight="normal" fill="#000" letter-spacing="0.15">706530-436</text>
<text x="977.9" y="604.3000000000001" font-size="9.6" text-anchor="start" font-weight="normal" fill="#000" letter-spacing="0.15">Terminal, Female, 18-20Ga. DTM</text>
<text x="1155.95" y="604.3000000000001" font-size="9.6" text-anchor="middle" font-weight="normal" fill="#000" letter-spacing="0.15">15</text>
<text x="865" y="620.5" font-size="9.6" text-anchor="start" font-weight="normal" fill="#000" letter-spacing="0.15">1</text>
<text x="891.9" y="616.7" font-size="9.6" text-anchor="start" font-weight="normal" fill="#000" letter-spacing="0.15">706530-295</text>
<text x="977.9" y="616.7" font-size="9.6" text-anchor="start" font-weight="normal" fill="#000" letter-spacing="0.15">DRC Plug, 24 Pin, Size 20, B Key</text>
<text x="1155.95" y="616.7" font-size="9.6" text-anchor="middle" font-weight="normal" fill="#000" letter-spacing="0.15">1</text>
<text x="868.55" y="632.3000000000001" font-size="9.3" text-anchor="middle" font-weight="bold" fill="#000" >Item</text>
<text x="927.1" y="632.3000000000001" font-size="9.3" text-anchor="middle" font-weight="bold" fill="#000" letter-spacing="0.3">Part Number</text>
<text x="1058.15" y="632.3000000000001" font-size="9.3" text-anchor="middle" font-weight="bold" fill="#000" letter-spacing="0.3">Description</text>
<text x="1155.95" y="632.3000000000001" font-size="9.3" text-anchor="middle" font-weight="bold" fill="#000" >Qty</text>
<line x1="857.5" y1="670.4" x2="1170.2" y2="670.4" stroke="#505058" stroke-width="1.2" />
<line x1="857.5" y1="636.3" x2="857.5" y2="756" stroke="#505058" stroke-width="1.2" />
<line x1="857.5" y1="713.6" x2="1170.2" y2="713.6" stroke="#505058" stroke-width="1.2" />
<line x1="957.3" y1="670.4" x2="957.3" y2="756" stroke="#505058" stroke-width="1.2" />
<line x1="857.5" y1="678.4" x2="957.3" y2="678.4" stroke="#505058" stroke-width="1" />
<line x1="857.5" y1="689.4" x2="957.3" y2="689.4" stroke="#505058" stroke-width="1" />
<line x1="857.5" y1="701.4" x2="957.3" y2="701.4" stroke="#505058" stroke-width="1" />
<line x1="887.7" y1="670.4" x2="887.7" y2="713.6" stroke="#505058" stroke-width="1" />
<line x1="923.3" y1="670.4" x2="923.3" y2="713.6" stroke="#505058" stroke-width="1" />
<line x1="957.3" y1="737.3" x2="1170.2" y2="737.3" stroke="#505058" stroke-width="1.2" />
<line x1="982.6" y1="713.6" x2="982.6" y2="737.3" stroke="#505058" stroke-width="1" />
<line x1="1144.4" y1="713.6" x2="1144.4" y2="737.3" stroke="#505058" stroke-width="1" />
<line x1="1105.6" y1="737.3" x2="1105.6" y2="756" stroke="#505058" stroke-width="1" />
<text x="905.5" y="677.3" font-size="5" text-anchor="middle" font-weight="normal" fill="#333" >Name</text>
<text x="940.3" y="677.3" font-size="5" text-anchor="middle" font-weight="normal" fill="#333" >Date</text>
<text x="861" y="686.5" font-size="4.8" text-anchor="start" font-weight="normal" fill="#333" >Drawn</text>
<text x="861" y="697.8" font-size="4.8" text-anchor="start" font-weight="normal" fill="#333" >Checked</text>
<text x="861" y="709.3" font-size="4.8" text-anchor="start" font-weight="normal" fill="#333" >QA APP</text>
<text x="905.5" y="687.5" font-size="12" text-anchor="middle" font-weight="normal" fill="#000" >BLS</text>
<text x="940.3" y="687.2" font-size="8.7" text-anchor="middle" font-weight="normal" fill="#000" >10/26/17</text>
<text x="960" y="675.5" font-size="5" text-anchor="start" font-weight="normal" fill="#333" >TITLE:</text>
<text x="1070.5" y="688.2" font-size="16" text-anchor="middle" font-weight="normal" fill="#000" >Acc Cable, Dual Product</text>
<text x="1058" y="706.9" font-size="16" text-anchor="middle" font-weight="normal" fill="#000" >1ft, Seed Squirter</text>
<text x="960.5" y="719.5" font-size="5" text-anchor="start" font-weight="normal" fill="#333" >SIZE</text>
<text x="968.6" y="734.5" font-size="12" text-anchor="middle" font-weight="normal" fill="#000" >B</text>
<text x="990" y="719.5" font-size="5" text-anchor="start" font-weight="normal" fill="#333" >DWG No:</text>
<text x="1075.1" y="731" font-size="18" text-anchor="middle" font-weight="normal" fill="#000" >115205-013</text>
<text x="1152" y="719.5" font-size="5" text-anchor="start" font-weight="normal" fill="#333" >REV</text>
<text x="1157.4" y="735.2" font-size="15.5" text-anchor="middle" font-weight="normal" fill="#000" >A</text>
<text x="960" y="749.3" font-size="8.5" text-anchor="start" font-weight="normal" fill="#000" letter-spacing="0.6">SCALE:</text>
<text x="1008.5" y="749" font-size="12.5" text-anchor="start" font-weight="normal" fill="#000" letter-spacing="0.3">None</text>
<text x="1111" y="752.6" font-size="8.5" text-anchor="start" font-weight="normal" fill="#000" letter-spacing="0.35">SHEET 1 of 2</text>
<g transform="translate(979.6,653.2)">
<path d="M0,-12.4 L11,0 L0,12.4 L-11,0 Z" fill="none" stroke="#8aa2b8" stroke-width="1.2"/>
<circle cx="-5.4" cy="-6.0" r="1.3" fill="#4a6a8a"/>
<circle cx="0.0" cy="-6.0" r="1.3" fill="#4a6a8a"/>
<circle cx="-2.7" cy="-3.0" r="1.3" fill="#4a6a8a"/>
<circle cx="-5.4" cy="0.0" r="1.3" fill="#4a6a8a"/>
<circle cx="5.4" cy="-6.0" r="1.3" fill="#4a6a8a"/>
<circle cx="2.7" cy="-3.0" r="1.3" fill="#4a6a8a"/>
<circle cx="0.0" cy="0.0" r="1.3" fill="#4a6a8a"/>
<circle cx="-2.7" cy="3.0" r="1.3" fill="#4a6a8a"/>
<circle cx="-5.4" cy="6.0" r="1.3" fill="#4a6a8a"/>
<circle cx="5.4" cy="0.0" r="1.3" fill="#4a6a8a"/>
<circle cx="2.7" cy="3.0" r="1.3" fill="#4a6a8a"/>
<circle cx="0.0" cy="6.0" r="1.3" fill="#4a6a8a"/>
<circle cx="5.4" cy="6.0" r="1.3" fill="#4a6a8a"/>
</g>
<text x="993.7" y="660.6" font-size="18.5" fill="#5a5a5a" textLength="106.6" lengthAdjust="spacingAndGlyphs">Capstan<tspan fill="#8c8c8c">AG</tspan></text>
</svg>
</body></html>
